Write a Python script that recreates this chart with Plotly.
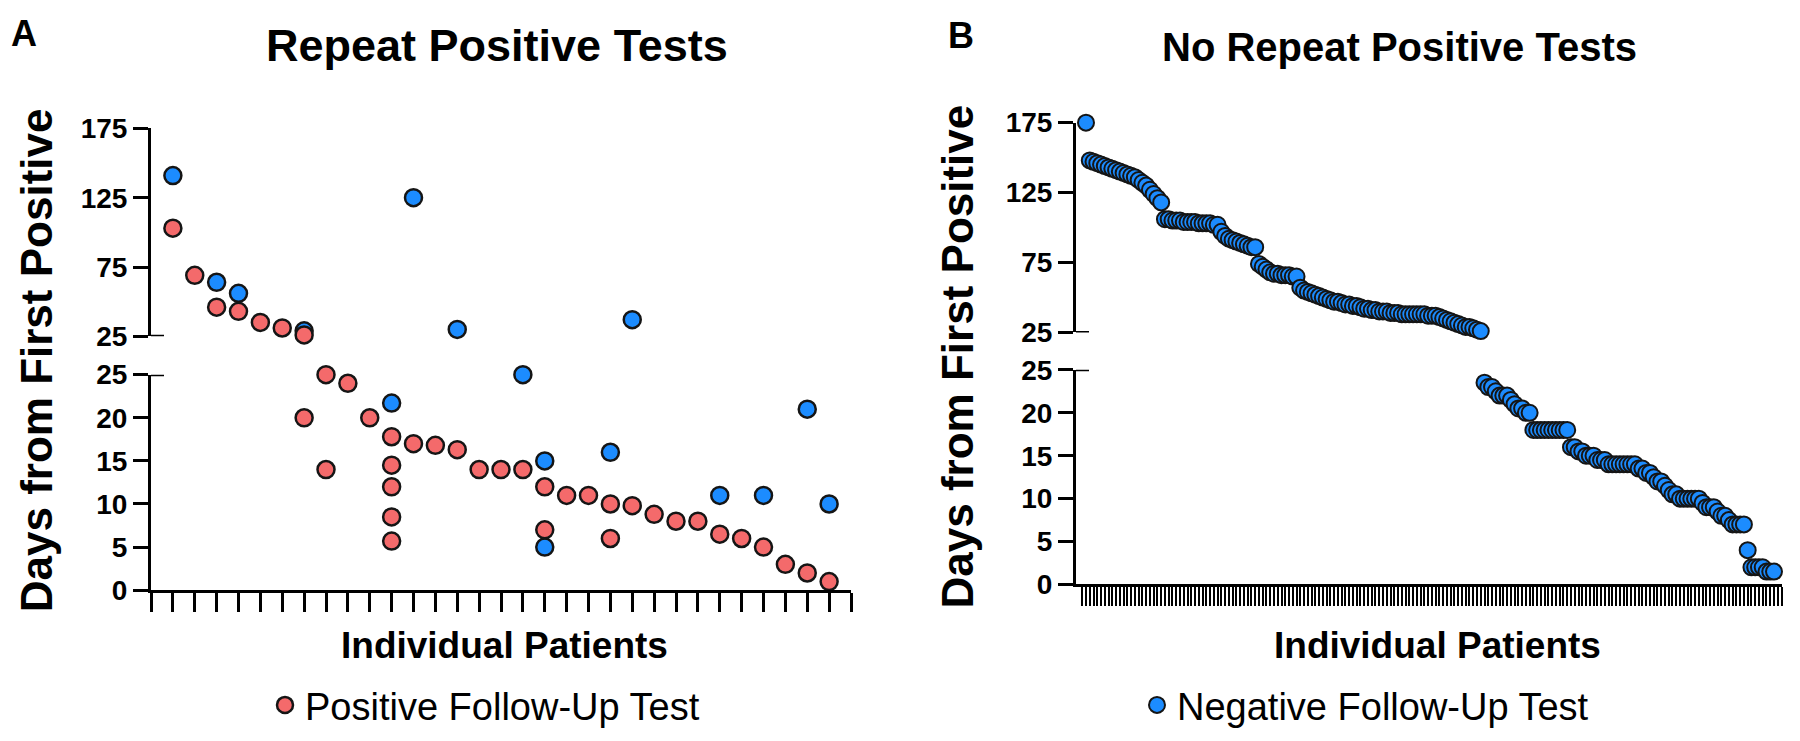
import plotly.graph_objects as go

# ---------------- data ----------------
# Panel A: patients with repeat positive tests
pos_patient = [1, 2, 3, 4, 5, 6, 7, 7, 8, 8, 9, 10, 11, 11, 11, 11, 11, 12, 13, 14, 15, 16, 17,
               18, 18, 19, 20, 21, 21, 22, 23, 24, 25, 26, 27, 28, 29, 30, 31]
pos_days = [103, 69, 46, 43, 35, 31, 26, 20, 25, 14, 24, 20, 17.8, 14.5, 12, 8.5, 5.7, 17, 16.8, 16.3, 14, 14, 14,
            12, 7, 11, 11, 10, 6, 9.8, 8.8, 8, 8, 6.5, 6, 5, 3, 2, 1]
neg_patient = [1, 3, 4, 7, 11, 12, 14, 17, 18, 18, 21, 22, 26, 28, 30, 31]
neg_days = [141, 64, 56, 29, 21.7, 125, 30, 25, 15, 5, 16, 37, 11, 11, 21, 10]

# Panel B: patients without repeat positive tests (negative follow-up)
b_days_high = [175,
               148, 147, 146, 145, 144, 143, 142,
               141, 140, 139, 138, 137, 136, 134,
               132, 130, 127, 124, 121, 118,
               106, 106, 105, 105, 105, 104, 104, 104, 104, 103, 103, 103, 103, 102, 102,
               97, 94, 92, 91, 90, 89, 88, 87, 86, 86,
               74, 72, 70, 68, 67, 67, 66, 66, 66, 65, 65,
               57, 55, 54, 53, 52, 51, 50, 49, 48, 47, 47, 46, 45, 45, 44, 44, 43,
               42, 42, 41, 41, 40, 40, 40, 39, 39, 39, 38, 38, 38, 38, 38, 38, 38, 37, 37, 37,
               36, 35, 34, 33, 32, 31, 30, 29, 29, 28, 27, 26]
b_days_low = [23.5, 23, 23, 22.5, 22, 22, 22, 21.5, 21, 20.5, 20.5, 20, 20,
              18, 18, 18, 18, 18, 18, 18, 18, 18, 18,
              16, 16, 15.5, 15.5, 15, 15,
              15, 14.5, 14.5, 14.5, 14, 14, 14, 14, 14, 14, 14, 14, 13.5, 13.5, 13, 13,
              12.5, 12, 12, 11.5, 11, 10.5, 10.5,
              10, 10, 10, 10, 10, 10, 9.5, 9, 9,
              9, 8.5, 8, 8, 7.5, 7, 7, 7, 7,
              4,
              2, 2, 2, 2, 1.5, 1.5, 1.5]

lower_ticks = [0, 5, 10, 15, 20, 25]
upper_ticks = [25, 75, 125, 175]
BREAK = 25

# ---------------- styling ----------------
FONT = "Liberation Sans, Arial, sans-serif"
RED = "#F46A6B"
BLUE = "#1C8CFF"
EDGE = "#151515"

b_days = b_days_high + b_days_low
b_patient = list(range(1, len(b_days) + 1))
nA = max(pos_patient + neg_patient) + 1
nB = len(b_days)


def split(px, dy):
    lo = [(p, d) for p, d in zip(px, dy) if d <= BREAK]
    hi = [(p, d) for p, d in zip(px, dy) if d > BREAK]
    return lo, hi


fig = go.Figure()


def add(points, xa, ya, color, size, lw, name, show, leg):
    fig.add_trace(go.Scatter(
        x=[p for p, _ in points], y=[d for _, d in points], mode="markers",
        xaxis=xa, yaxis=ya, name=name, showlegend=show, legend=leg, cliponaxis=False,
        marker=dict(size=size, color=color, line=dict(color=EDGE, width=lw)),
        hoverinfo="x+y"))


nlo, nhi = split(neg_patient, neg_days)
plo, phi = split(pos_patient, pos_days)
add(nlo, "x", "y", BLUE, 17, 2.5, "Negative Follow-Up Test", False, "legend")
add(nhi, "x", "y2", BLUE, 17, 2.5, "Negative Follow-Up Test", False, "legend")
add(plo, "x", "y", RED, 17, 2.5, "Positive Follow-Up Test", True, "legend")
add(phi, "x", "y2", RED, 17, 2.5, "Positive Follow-Up Test", False, "legend")

blo, bhi = split(b_patient, b_days)
add(bhi, "x2", "y4", BLUE, 16, 2, "Negative Follow-Up Test", False, "legend2")
add(blo, "x2", "y3", BLUE, 16, 2, "Negative Follow-Up Test", True, "legend2")

W, H = 1800, 741


def xd(a, b):
    return [a / W, b / W]


def yd(top, bottom):
    return [1 - bottom / H, 1 - top / H]


A_X0, A_X1 = 143, 843
B_X0, B_X1 = 1068, 1774
B_SP = (B_X1 - 8 - (B_X0 + 10)) / (nB - 1)

tickfont = dict(size=28, family=FONT, color="black", weight="bold")
yax = dict(showline=True, linewidth=3, linecolor="black", ticks="outside", ticklen=15, tickwidth=3,
           tickcolor="black", showgrid=False, zeroline=False, tickfont=tickfont, tickmode="array",
           ticklabelstandoff=0, fixedrange=True)
xax = dict(showline=True, linewidth=3, linecolor="black", ticks="outside", ticklen=19,
           tickcolor="black", showgrid=False, zeroline=False, showticklabels=False, tickmode="array",
           fixedrange=True)

fig.update_layout(
    width=W, height=H, margin=dict(l=0, r=0, t=0, b=0),
    paper_bgcolor="white", plot_bgcolor="white",
    font=dict(family=FONT, color="black"),
    xaxis=dict(xax, domain=xd(A_X0, A_X1), range=[0, nA], tickvals=list(range(0, nA + 1)), tickwidth=3, anchor="y"),
    yaxis=dict(yax, domain=yd(367, 592), range=[0, BREAK], tickvals=lower_ticks, anchor="x"),
    yaxis2=dict(yax, domain=yd(110, 327), range=[BREAK, 175], tickvals=upper_ticks, anchor="x"),
    xaxis2=dict(xax, domain=xd(B_X0, B_X1), range=[1 - 10 / B_SP, nB + 8 / B_SP],
                tickvals=list(range(0, nB + 3)), tickwidth=1.6, anchor="y3"),
    yaxis3=dict(yax, domain=yd(362, 586), range=[0, BREAK], tickvals=lower_ticks, anchor="x2"),
    yaxis4=dict(yax, domain=yd(104, 323), range=[BREAK, 175], tickvals=upper_ticks, anchor="x2"),
    legend=dict(x=257 / W, y=1 - 712 / H, xanchor="left", yanchor="middle", itemwidth=30,
                font=dict(size=38, family=FONT, color="black"), bgcolor="rgba(0,0,0,0)"),
    legend2=dict(x=1129 / W, y=1 - 712 / H, xanchor="left", yanchor="middle", itemwidth=30,
                 font=dict(size=38, family=FONT, color="black"), bgcolor="rgba(0,0,0,0)"),
)

# break caps at the axis break
for xr, yr, w in [("x domain", "y", A_X1 - A_X0), ("x domain", "y2", A_X1 - A_X0),
                  ("x2 domain", "y3", B_X1 - B_X0), ("x2 domain", "y4", B_X1 - B_X0)]:
    fig.add_shape(type="line", xref=xr, yref=yr, x0=0, x1=13 / w, y0=BREAK, y1=BREAK,
                  line=dict(color="black", width=3))

ann = []


def text(t, x, y, size, bold=True, angle=0):
    ann.append(dict(text=t, x=x / W, y=1 - y / H, xref="paper", yref="paper", showarrow=False,
                    xanchor="center", yanchor="middle", textangle=angle,
                    font=dict(size=size, family=FONT, color="black", weight="bold" if bold else "normal")))


text("A", 16, 11, 36)
text("B", 953, 13, 36)
text("Repeat Positive Tests", 489, 24, 45)
text("No Repeat Positive Tests", 1391, 25, 40)
text("Days from First Positive", 28, 352, 44, angle=-90)
text("Days from First Positive", 949, 348, 44, angle=-90)
text("Individual Patients", 497, 650, 37)
text("Individual Patients", 1429, 650, 37)
fig.update_layout(annotations=ann)

fig.write_html("out.html")
